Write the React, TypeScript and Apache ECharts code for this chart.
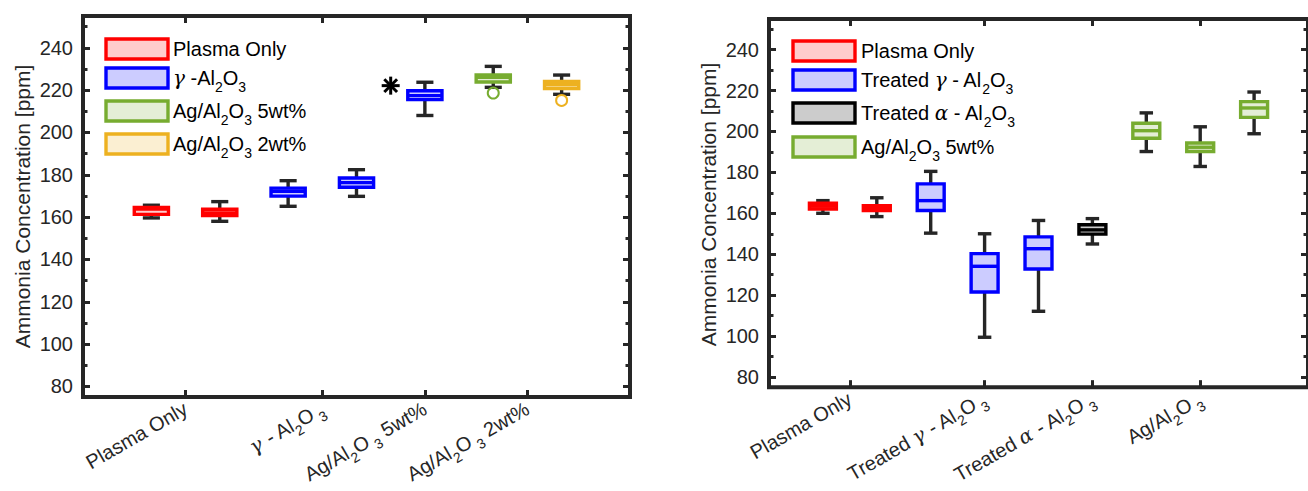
import React, { useEffect, useRef } from 'react';
import * as echarts from 'echarts';

const FONT = '"Liberation Sans", Arial, Helvetica, sans-serif';
const GREEK_FONT = '"DejaVu Serif", "Liberation Serif", serif';
const AXIS_COLOR = '#262626';

// ---- shared y axis ----
const Y_MIN = 75;
const Y_MAX = 255;
const yMajorTicks = [80, 100, 120, 140, 160, 180, 200, 220, 240];
const yMinorTicks = [90, 110, 130, 150, 170, 190, 210, 230, 250];
const yAxisTitle = 'Ammonia Concentration [ppm]';

// group colours: 0 plasma, 1 gamma-Al2O3, 2 Ag 5wt%, 3 Ag 2wt%, 4 alpha-Al2O3
const groupColors = ['#FF0000', '#0000FF', '#77AC30', '#EDB120', '#000000'];
const groupFills = ['#FFCCCC', '#CCCCFF', '#E4EED6', '#FBEFD2', '#CCCCCC'];

// ---- left chart ----
const leftXMax = 8;
const leftBoxX = [1, 2, 3, 4, 5, 6, 7];
const leftBoxGroup = [0, 0, 1, 1, 1, 2, 3];
const leftLow = [159.6, 158.0, 165.1, 169.8, 208.0, 221.3, 218.0];
const leftQ1 = [161.3, 160.7, 169.9, 174.1, 215.5, 223.8, 220.7];
const leftMedian = [163.8, 162.0, 172.2, 176.3, 217.4, 226.0, 222.5];
const leftQ3 = [164.6, 163.7, 173.7, 178.5, 219.7, 227.2, 224.1];
const leftHigh = [165.6, 167.3, 177.2, 182.4, 223.7, 231.2, 227.1];
const leftOutX = [4.5, 6, 7];
const leftOutY = [222.1, 218.6, 215.1];
const leftOutKind = [-1, 2, 3]; // -1 asterisk, otherwise circle of that group
const leftTickValues = [1.5, 3.5, 5, 6.5];
const leftTickLabels = [
  '{n|Plasma Only}',
  '{g|γ}{n| - Al}{s|2}{n|O}{s| 3}',
  '{n|Ag/Al}{s|2}{n|O}{s| 3}{n| 5wt%}',
  '{n|Ag/Al}{s|2}{n|O}{s| 3}{n| 2wt%}',
];
const leftLegendLabels = [
  '{n|Plasma Only}',
  '{g|γ}{n| -Al}{s|2}{n|O}{s|3}',
  '{n|Ag/Al}{s|2}{n|O}{s|3}{n| 5wt%}',
  '{n|Ag/Al}{s|2}{n|O}{s|3}{n| 2wt%}',
];
const leftLegendGroups = [0, 1, 2, 3];

// ---- right chart ----
const rightXMax = 10;
const rightBoxX = [1, 2, 3, 4, 5, 6, 7, 8, 9];
const rightBoxGroup = [0, 0, 1, 1, 1, 4, 2, 2, 2];
const rightLow = [160.0, 158.4, 150.3, 99.4, 112.1, 145.0, 190.2, 182.9, 198.9];
const rightQ1 = [162.1, 161.4, 161.4, 121.5, 132.8, 149.8, 196.7, 190.2, 206.9];
const rightMedian = [163.5, 162.4, 166.2, 134.1, 142.7, 151.9, 200.4, 192.3, 211.5];
const rightQ3 = [164.9, 163.7, 174.4, 140.3, 148.5, 154.4, 204.0, 194.4, 214.6];
const rightHigh = [166.2, 167.6, 180.5, 150.0, 156.5, 157.4, 209.1, 202.3, 219.3];
const rightTickValues = [1.5, 4, 6, 8];
const rightTickLabels = [
  '{n|Plasma Only}',
  '{n|Treated }{g|γ}{n| - Al}{s|2}{n|O}{s| 3}',
  '{n|Treated }{g|α}{n| - Al}{s|2}{n|O}{s| 3}',
  '{n|Ag/Al}{s|2}{n|O}{s| 3}',
];
const rightLegendLabels = [
  '{n|Plasma Only}',
  '{n|Treated }{g|γ}{n| - Al}{s|2}{n|O}{s|3}',
  '{n|Treated }{g|α}{n| - Al}{s|2}{n|O}{s|3}',
  '{n|Ag/Al}{s|2}{n|O}{s|3}{n| 5wt%}',
];
const rightLegendGroups = [0, 1, 4, 2];

const BOX_WIDTH = 0.5;
const CAP_WIDTH = 0.25;
const LW = 3.4;

const tickRich = {
  n: { fontSize: 20, fontFamily: FONT, color: AXIS_COLOR },
  g: { fontSize: 20, fontFamily: GREEK_FONT, fontStyle: 'italic', color: AXIS_COLOR },
  s: { fontSize: 14, fontFamily: FONT, color: AXIS_COLOR, padding: [17, 0, 0, 0] },
};
const legendRich = {
  n: { fontSize: 20, fontFamily: FONT, color: '#000' },
  g: { fontSize: 20, fontFamily: GREEK_FONT, fontStyle: 'italic', color: '#000' },
  s: { fontSize: 14, fontFamily: FONT, color: '#000', padding: [18, 0, 0, 0] },
};

function renderBox(params: any, api: any) {
  const x = api.value(0);
  const g = api.value(6);
  const pLow = api.coord([x, api.value(1)]);
  const pQ1 = api.coord([x, api.value(2)]);
  const pMed = api.coord([x, api.value(3)]);
  const pQ3 = api.coord([x, api.value(4)]);
  const pHigh = api.coord([x, api.value(5)]);
  const bw = api.size([BOX_WIDTH, 0])[0];
  const cw = api.size([CAP_WIDTH, 0])[0];
  const cx = pLow[0];
  const ws = { stroke: AXIS_COLOR, lineWidth: LW, fill: null };
  return {
    type: 'group',
    children: [
      { type: 'line', shape: { x1: cx, y1: pLow[1], x2: cx, y2: pQ1[1] }, style: ws },
      { type: 'line', shape: { x1: cx, y1: pQ3[1], x2: cx, y2: pHigh[1] }, style: ws },
      { type: 'line', shape: { x1: cx - cw / 2, y1: pLow[1], x2: cx + cw / 2, y2: pLow[1] }, style: ws },
      { type: 'line', shape: { x1: cx - cw / 2, y1: pHigh[1], x2: cx + cw / 2, y2: pHigh[1] }, style: ws },
      {
        type: 'rect',
        shape: { x: cx - bw / 2, y: pQ3[1], width: bw, height: pQ1[1] - pQ3[1] },
        style: { fill: groupFills[g], stroke: groupColors[g], lineWidth: LW },
      },
      {
        type: 'line',
        shape: { x1: cx - bw / 2, y1: pMed[1], x2: cx + bw / 2, y2: pMed[1] },
        style: { stroke: groupColors[g], lineWidth: LW },
      },
    ],
  };
}

function renderOutlier(params: any, api: any) {
  const p = api.coord([api.value(0), api.value(1)]);
  const kind = api.value(2);
  if (kind < 0) {
    const r = 9;
    const d = r * 0.7071;
    const st = { stroke: '#000', lineWidth: 3 };
    return {
      type: 'group',
      children: [
        { type: 'line', shape: { x1: p[0] - r, y1: p[1], x2: p[0] + r, y2: p[1] }, style: st },
        { type: 'line', shape: { x1: p[0], y1: p[1] - r, x2: p[0], y2: p[1] + r }, style: st },
        { type: 'line', shape: { x1: p[0] - d, y1: p[1] - d, x2: p[0] + d, y2: p[1] + d }, style: st },
        { type: 'line', shape: { x1: p[0] - d, y1: p[1] + d, x2: p[0] + d, y2: p[1] - d }, style: st },
      ],
    };
  }
  return {
    type: 'circle',
    shape: { cx: p[0], cy: p[1], r: 5.5 },
    style: { fill: 'none', stroke: groupColors[kind], lineWidth: 2 },
  };
}

function boxData(xs: number[], lo: number[], q1: number[], md: number[], q3: number[], hi: number[], grp: number[]) {
  return xs.map((x, i) => [x, lo[i], q1[i], md[i], q3[i], hi[i], grp[i]]);
}

function labelFor(values: number[], labels: string[]) {
  return (v: number) => {
    const i = values.findIndex((t) => Math.abs(t - v) < 1e-6);
    return i >= 0 ? labels[i] : '';
  };
}

function xAxes(gridIndex: number, max: number, ticks: number[], labels: string[]) {
  const tick = { inside: true, length: 7, customValues: ticks, lineStyle: { color: AXIS_COLOR, width: 3 } };
  return [
    {
      type: 'value', gridIndex, min: 0, max, position: 'bottom',
      axisLine: { show: false }, splitLine: { show: false },
      axisTick: tick,
      axisLabel: {
        customValues: ticks, rotate: 30, margin: 10,
        formatter: labelFor(ticks, labels), rich: tickRich,
        fontFamily: FONT, fontSize: 20, color: AXIS_COLOR,
      },
    },
    {
      type: 'value', gridIndex, min: 0, max, position: 'top',
      axisLine: { show: false }, splitLine: { show: false },
      axisTick: tick, axisLabel: { show: false },
    },
  ];
}

function yAxes(gridIndex: number) {
  const base = { type: 'value', gridIndex, min: Y_MIN, max: Y_MAX, axisLine: { show: false }, splitLine: { show: false } };
  const major = { inside: true, length: 7, customValues: yMajorTicks, lineStyle: { color: AXIS_COLOR, width: 3 } };
  const minor = { inside: true, length: 4.5, customValues: yMinorTicks, lineStyle: { color: AXIS_COLOR, width: 3 } };
  return [
    {
      ...base, position: 'left', axisTick: major,
      axisLabel: { customValues: yMajorTicks, margin: 10, fontFamily: FONT, fontSize: 20, color: AXIS_COLOR },
    },
    { ...base, position: 'left', axisTick: minor, axisLabel: { show: false } },
    { ...base, position: 'right', axisTick: major, axisLabel: { show: false } },
    { ...base, position: 'right', axisTick: minor, axisLabel: { show: false } },
  ];
}

function legend(x: number, textX: number, ys: number[], labels: string[], groups: number[]) {
  const els: any[] = [];
  ys.forEach((y, i) => {
    const g = groups[i];
    els.push({
      type: 'rect', shape: { x, y: y - 10, width: 62, height: 20 },
      style: { fill: groupFills[g], stroke: groupColors[g], lineWidth: 3.4 },
    });
    els.push({
      type: 'text', x: textX, y,
      style: {
        text: labels[i], rich: legendRich, fontFamily: FONT, fontSize: 20, fill: '#000',
        align: 'left', verticalAlign: 'middle', textAlign: 'left', textVerticalAlign: 'middle',
      },
    });
  });
  return els;
}

function yTitle(x: number, y: number) {
  return {
    type: 'text', x, y, rotation: Math.PI / 2,
    style: {
      text: yAxisTitle, fontFamily: FONT, fontSize: 21, fill: AXIS_COLOR,
      align: 'center', verticalAlign: 'middle', textAlign: 'center', textVerticalAlign: 'middle',
    },
  };
}

export default function App() {
  const ref = useRef<HTMLDivElement>(null);
  useEffect(() => {
    if (!ref.current) return;
    const chart = echarts.init(ref.current, null, { renderer: 'svg' });
    const gridStyle = { show: true, borderColor: AXIS_COLOR, borderWidth: 4, backgroundColor: '#ffffff' };
    chart.setOption({
      animation: false,
      backgroundColor: '#ffffff',
      grid: [
        { ...gridStyle, left: 83, top: 16, width: 547, height: 381 },
        { ...gridStyle, left: 769, top: 19, width: 550, height: 371 },
      ],
      xAxis: [
        ...xAxes(0, leftXMax, leftTickValues, leftTickLabels),
        ...xAxes(1, rightXMax, rightTickValues, rightTickLabels),
      ],
      yAxis: [...yAxes(0), ...yAxes(1)],
      series: [
        {
          type: 'custom', xAxisIndex: 0, yAxisIndex: 0, renderItem: renderBox, silent: true,
          encode: { x: 0, y: [1, 5] },
          data: boxData(leftBoxX, leftLow, leftQ1, leftMedian, leftQ3, leftHigh, leftBoxGroup),
        },
        {
          type: 'custom', xAxisIndex: 0, yAxisIndex: 0, renderItem: renderOutlier, silent: true,
          encode: { x: 0, y: 1 },
          data: leftOutX.map((x, i) => [x, leftOutY[i], leftOutKind[i]]),
        },
        {
          type: 'custom', xAxisIndex: 2, yAxisIndex: 4, renderItem: renderBox, silent: true,
          encode: { x: 0, y: [1, 5] },
          data: boxData(rightBoxX, rightLow, rightQ1, rightMedian, rightQ3, rightHigh, rightBoxGroup),
        },
      ],
      graphic: [
        yTitle(22, 206.5),
        yTitle(708, 204.5),
        ...legend(106, 173, [49, 78, 111, 144], leftLegendLabels, leftLegendGroups),
        ...legend(793, 861, [51, 80, 113, 147], rightLegendLabels, rightLegendGroups),
      ],
    });
    return () => chart.dispose();
  }, []);
  return (
    <div
      ref={ref}
      style={{ position: 'absolute', left: 0, top: 0, width: 1308, height: 491, background: '#fff' }}
    />
  );
}
